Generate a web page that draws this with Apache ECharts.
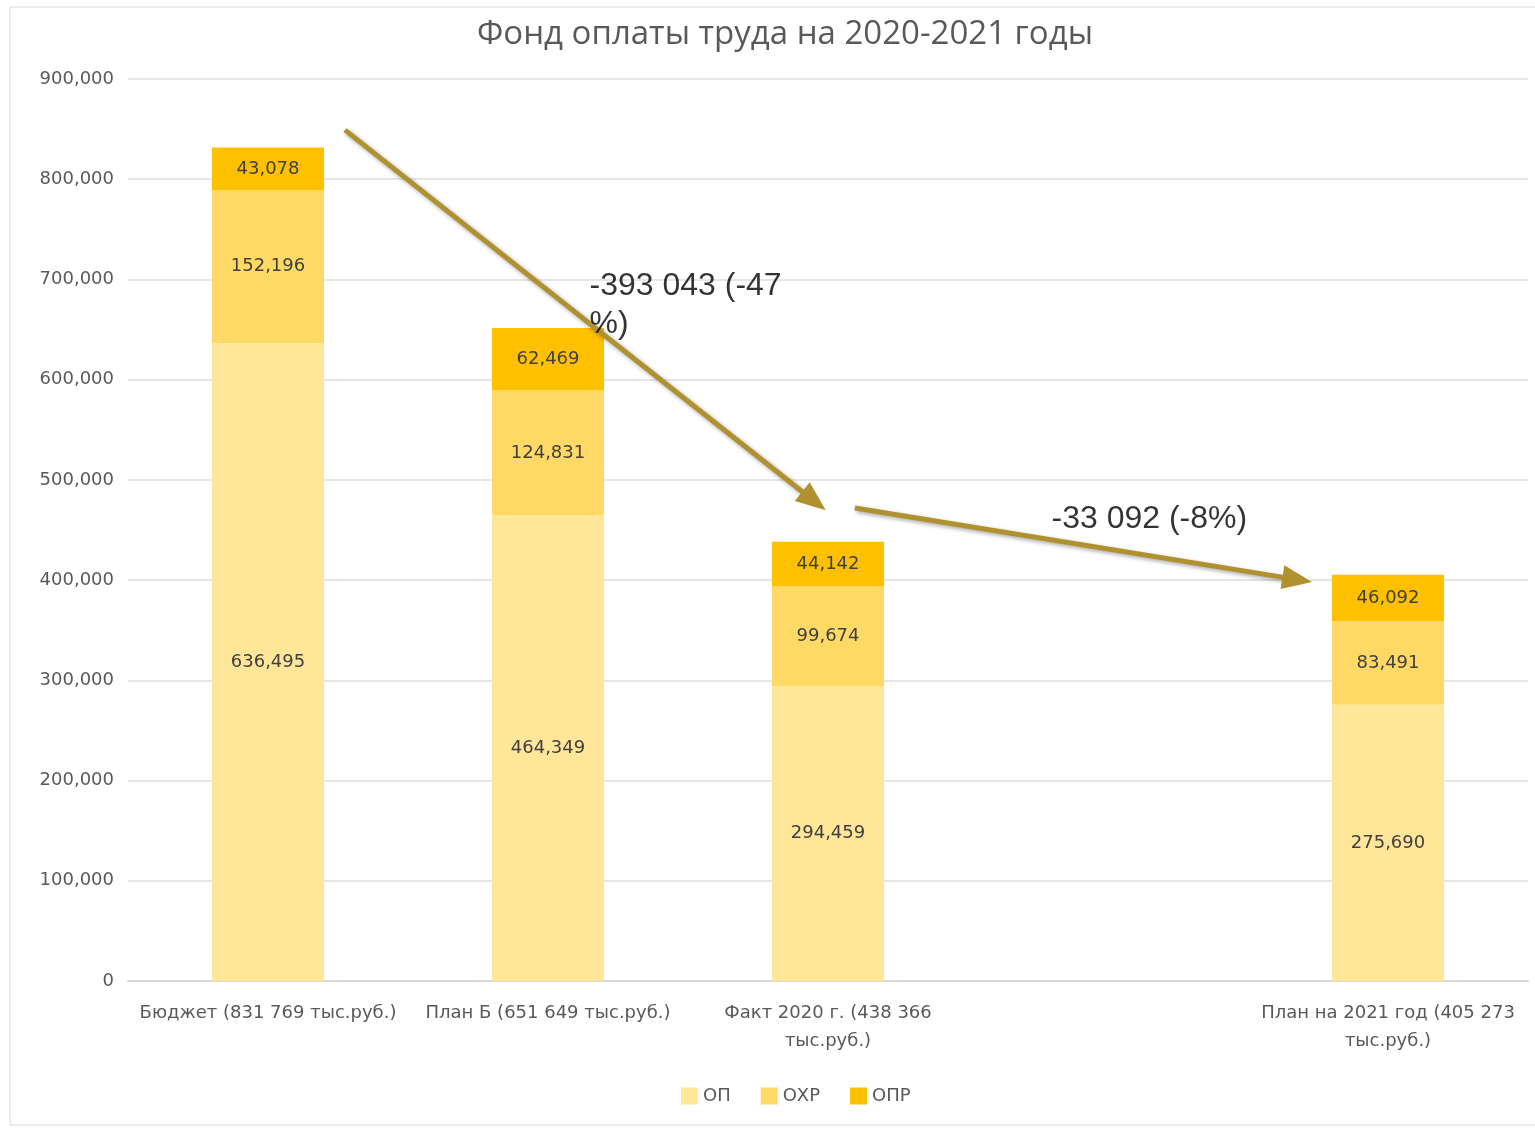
<!DOCTYPE html>
<html>
<head>
<meta charset="utf-8">
<script src="https://cdn.jsdelivr.net/npm/echarts@6/dist/echarts.min.js"></script>
<style>html,body{margin:0;padding:0;background:#fff;}#c{width:1535px;height:1129px;}</style>
</head>
<body>
<div id="c"></div>
<script>
const categories = ['Бюджет (831 769 тыс.руб.)', 'План Б (651 649 тыс.руб.)', 'Факт 2020 г. (438 366\nтыс.руб.)', '', 'План на 2021 год (405 273\nтыс.руб.)'];
const seriesNames = ['ОП', 'ОХР', 'ОПР'];
const opValues  = [636495, 464349, 294459, null, 275690];
const ohrValues = [152196, 124831, 99674, null, 83491];
const oprValues = [43078, 62469, 44142, null, 46092];
const yMax = 900000;
const yStep = 100000;
// annotation arrows in data space: [category position, value] (end = arrowhead centre)
const arrow1 = [[0.275, 849000], [1.95, 479000]];
const arrow2 = [[2.096, 472000], [3.676, 400500]];
const note1 = { pos: [1.15, 712000], text: '-393 043 (-47\n%)' };
const note2 = { pos: [2.8, 479000], text: '-33 092 (-8%)' };

const colors = ['#FFE699', '#FFD966', '#FFC000'];
const arrowColor = '#B0912F';
const font = '"DejaVu Sans", sans-serif';

const chart = echarts.init(document.getElementById('c'));
const barLabel = {
  show: true, position: 'inside', color: '#404040', fontFamily: font, fontSize: 18,
  formatter: p => p.value == null ? '' : p.value.toLocaleString('en-US')
};
function bar(name, data, color) {
  return { name, type: 'bar', stack: 'total', data, barWidth: '40%',
    itemStyle: { color }, label: barLabel, emphasis: { disabled: true } };
}
function arrowLine(a) {
  return [{ coord: a[0], symbol: 'none' }, { coord: a[1], symbol: 'triangle' }];
}
chart.setOption({
  backgroundColor: '#fff',
  animation: false,
  title: {
    text: 'Фонд оплаты труда на 2020-2021 годы', left: 472, top: 13,
    textStyle: { fontFamily: '"Open Sans", sans-serif', fontSize: 33, fontWeight: 'normal', color: '#595959' }
  },
  legend: {
    data: seriesNames, bottom: 19, left: 676, itemWidth: 17, itemHeight: 17, itemGap: 30,
    icon: 'rect',
    textStyle: { fontFamily: font, fontSize: 18, color: '#595959' }
  },
  grid: { left: 128, right: 7, top: 79, bottom: 148 },
  xAxis: [{
    type: 'category', data: categories,
    axisLine: { lineStyle: { color: '#D9D9D9', width: 2 } }, axisTick: { show: false },
    axisLabel: { interval: 0, fontFamily: font, fontSize: 18, color: '#595959', margin: 18, lineHeight: 28 }
  }, {
    type: 'value', min: -0.5, max: 4.5, show: false
  }],
  yAxis: [{
    type: 'value', min: 0, max: yMax, interval: yStep,
    axisLabel: { fontFamily: font, fontSize: 18, color: '#595959', margin: 14,
      formatter: v => v.toLocaleString('en-US') },
    splitLine: { lineStyle: { color: '#E6E6E6', width: 2 } },
    axisLine: { show: false }, axisTick: { show: false }
  }],
  series: [
    bar(seriesNames[0], opValues, colors[0]),
    bar(seriesNames[1], ohrValues, colors[1]),
    bar(seriesNames[2], oprValues, colors[2]),
    {
      type: 'scatter', xAxisIndex: 1, symbolSize: 1, itemStyle: { color: 'rgba(0,0,0,0)' },
      silent: true, z: 10,
      data: [
        { value: note1.pos, label: { formatter: note1.text } },
        { value: note2.pos, label: { formatter: note2.text } }
      ],
      label: { show: true, position: [0, 0], align: 'left', verticalAlign: 'top',
        fontFamily: '"Liberation Sans", Arial, sans-serif', fontSize: 32, color: '#000000', lineHeight: 38 },
      markLine: {
        silent: true, symbolSize: [24, 30], animation: false,
        label: { show: false },
        lineStyle: { color: arrowColor, width: 5, type: 'solid', opacity: 1,
          shadowColor: 'rgba(0,0,0,0.35)', shadowBlur: 4, shadowOffsetX: 2, shadowOffsetY: 2 },
        data: [arrowLine(arrow1), arrowLine(arrow2)]
      }
    }
  ],
  graphic: [{
    type: 'rect', shape: { x: 10, y: 7, width: 1540, height: 1118 },
    style: { fill: 'none', stroke: '#D9D9D9', lineWidth: 1 }, silent: true, z: -10
  }]
});
</script>
</body>
</html>
